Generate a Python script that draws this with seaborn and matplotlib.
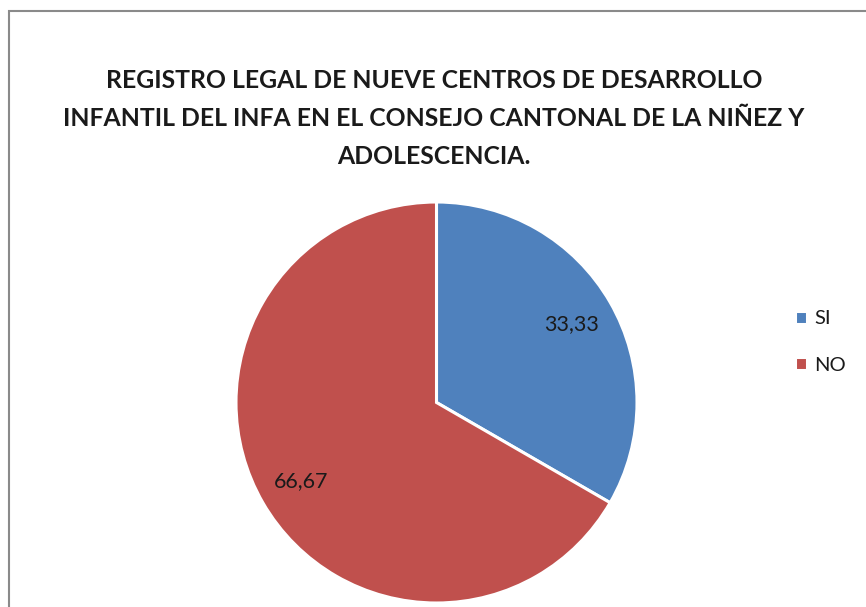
import matplotlib
matplotlib.use("Agg")
import matplotlib.pyplot as plt
import matplotlib.patches as mpatches
import seaborn as sns

# Data
categories = ["SI", "NO"]
values = [33.33, 66.67]
colors = ["#4F81BD", "#C0504D"]
title_lines = [
    "REGISTRO LEGAL DE NUEVE CENTROS DE DESARROLLO",
    "INFANTIL DEL INFA EN EL CONSEJO CANTONAL DE LA NIÑEZ Y",
    "ADOLESCENCIA.",
]

sns.set_theme(style="white")
plt.rcParams["font.family"] = ["Lato", "DejaVu Sans"]

W, H = 866, 607
fig = plt.figure(figsize=(W / 100, H / 100), dpi=100)
fig.patch.set_facecolor("white")

# chart border (extends beyond right/bottom edges)
border = mpatches.Rectangle((8.5 / W, -0.1), 1.2, 1 - 11 / H + 0.1,
                            transform=fig.transFigure, fill=False,
                            edgecolor="#8a8a8a", linewidth=1.5)
fig.patches.append(border)

# title
for i, line in enumerate(title_lines):
    fig.text(434 / W, 1 - (80 + i * 38.5) / H, line, ha="center", va="center",
             fontsize=17.8, fontweight="bold", color="#1a1a1a")

# pie
cx, cy, r = 436.5, 402.5, 200.5
ax = fig.add_axes([(cx - r) / W, 1 - (cy + r) / H, 2 * r / W, 2 * r / H])
wedges, texts, autotexts = ax.pie(
    values, colors=colors, startangle=90, counterclock=False,
    autopct=lambda p: f"{p:.2f}".replace(".", ","), pctdistance=0.78,
    wedgeprops=dict(edgecolor="white", linewidth=2.2),
    textprops=dict(fontsize=15.5, color="#1a1a1a"),
)
ax.set_xlim(-1, 1)
ax.set_ylim(-1, 1)
ax.set_axis_off()

# legend
leg = fig.legend(wedges, categories, loc="center left",
                 bbox_to_anchor=(795 / W, 1 - 342 / H), frameon=False,
                 fontsize=14.5, handlelength=0.6, handleheight=0.6,
                 handletextpad=0.35, labelspacing=1.45, borderaxespad=0,
                 borderpad=0)
for t in leg.get_texts():
    t.set_color("#1a1a1a")

fig.savefig("out.png", dpi=100, facecolor="white")
